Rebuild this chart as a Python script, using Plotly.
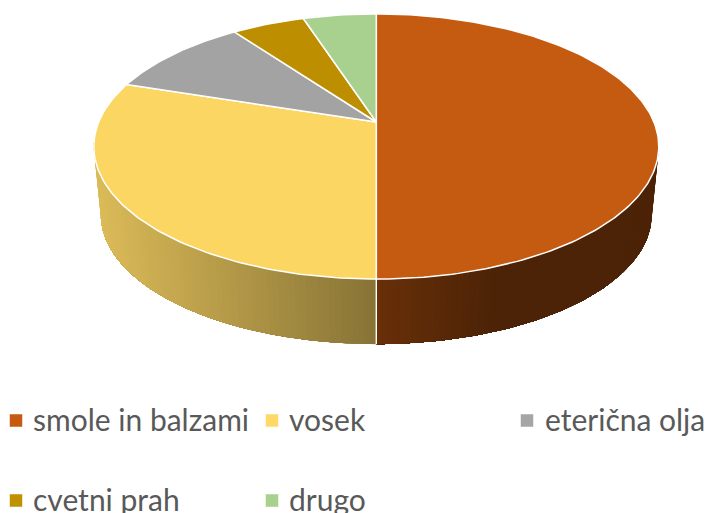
import numpy as np
import plotly.graph_objects as go

categories = ["smole in balzami", "vosek", "eterična olja", "cvetni prah", "drugo"]
shares = [50, 30, 10, 5, 5]
top_colors = ["#C55A11", "#FBD662", "#A3A3A3", "#BC8E00", "#A8D08E"]
legend_colors = ["#C55A11", "#FFD966", "#A5A5A5", "#BF9000", "#A9D18E"]

# Projection of the pie (perspective view, in page pixels)
CX, APEX_Y, A, B, K = 376.3, 122.0, 277.6, 128.0, 0.185
FLOOR_Y, FLOOR_S = 191.0, 0.975


def rim(theta, apex_y=APEX_Y, s=1.0):
    t = np.radians(theta)
    d = 1 + K * np.cos(t)
    return CX + s * A * np.sin(t) / d, apex_y - s * B * np.cos(t) / d


def shade(base, x):
    f = np.clip(0.86 - (x - 96) * 0.00118, 0.39, 0.86)
    rgb = [int(base[i:i + 2], 16) for i in (1, 3, 5)]
    return "rgb(%d,%d,%d)" % tuple(int(round(c * f)) for c in rgb)


edges = np.concatenate([[0], np.cumsum(shares)]) / np.sum(shares) * 360

fig = go.Figure()


def add(x, y, fill=None, line=None, width=1.0):
    fig.add_trace(go.Scatter(
        x=x, y=y, mode="lines", fill="toself" if fill else None,
        fillcolor=fill, line=dict(color=line, width=width),
        hoverinfo="skip", showlegend=False))


# Outer wall: bands painted over one another so the light falls off with no seams
VIS_A, VIS_B = 100.0, 262.0
for i, c in enumerate(legend_colors):
    a0, a1 = max(edges[i], VIS_A), min(edges[i + 1], VIS_B)
    if a1 <= a0:
        continue
    n = max(1, int((a1 - a0) / 1.0))
    th = np.linspace(a0, a1, n + 1)
    for j in range(n):
        part = th[j:]
        tx, ty = rim(part)
        bx, by = rim(part, FLOOR_Y, FLOOR_S)
        col = shade(c, (tx[0] + tx[1]) / 2)
        add(np.r_[tx, bx[::-1], tx[0]], np.r_[ty, by[::-1], ty[0]], col, col, 0)

# White seams on the wall where a slice boundary faces the viewer
for e in edges:
    if VIS_A < e < VIS_B:
        tx, ty = rim(e)
        bx, by = rim(e, FLOOR_Y, FLOOR_S)
        add([tx, bx], [ty, by], None, "#FFFFFF", 1.4)

# Top face
for i, c in enumerate(top_colors):
    th = np.arange(edges[i], edges[i + 1] + 0.5, 1.0)
    th[-1] = edges[i + 1]
    ax, ay = rim(th)
    add(np.r_[CX, ax, CX], np.r_[APEX_Y, ay, APEX_Y], c, "#FFFFFF", 1.5)

# Legend
LEG_X = [16, 272, 527, 16, 272]
LEG_Y = [420.5, 420.5, 420.5, 500.5, 500.5]
TXT_X = [31, 287, 543, 31, 287]
TXT_Y = [418.5, 418.5, 418.5, 498.5, 498.5]
fig.add_trace(go.Scatter(
    x=LEG_X, y=LEG_Y, mode="markers",
    marker=dict(symbol="square", size=12.5, color=legend_colors, line=dict(width=0)),
    hoverinfo="skip", showlegend=False))
for name, x, y in zip(categories, TXT_X, TXT_Y):
    fig.add_annotation(x=x, y=y, text=name, showarrow=False, xanchor="left",
                       yanchor="middle", xref="x", yref="y",
                       font=dict(family="Lato, Carlito, sans-serif", size=30, color="#595959"))

fig.update_layout(
    width=706, height=513, autosize=False,
    margin=dict(l=0, r=0, t=0, b=0),
    paper_bgcolor="white", plot_bgcolor="white", showlegend=False,
    xaxis=dict(range=[0, 706], visible=False, fixedrange=True),
    yaxis=dict(range=[513, 0], visible=False, fixedrange=True),
)
fig.write_html("out.html", config={"displayModeBar": False},
               post_script="document.body.style.margin='0';document.body.style.overflow='hidden';")
